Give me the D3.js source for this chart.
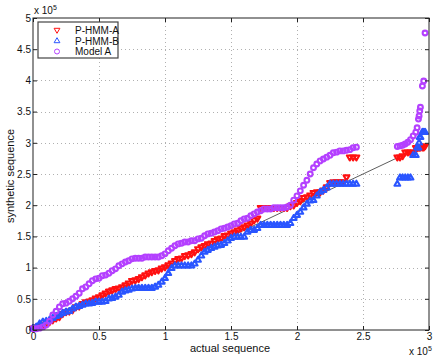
<!DOCTYPE html>
<html><head><meta charset="utf-8">
<script src="https://cdn.jsdelivr.net/npm/d3@7"></script>
<style>
body{margin:0;background:#fff;}
svg{display:block;font-family:"Liberation Sans",Arial,Helvetica,sans-serif;}
</style></head>
<body><svg id="c" width="436" height="357"></svg>
<script>
// actual-sequence quantiles (x 10^5)
const actualQ = [0,0.025,0.05,0.075,0.1,0.125,0.15,0.175,0.2,0.225,0.25,0.275,0.3,0.325,0.35,0.375,0.4,0.425,0.45,0.475,0.5,0.525,0.55,0.575,0.6,0.625,0.65,0.675,0.7,0.725,0.75,0.775,0.8,0.825,0.85,0.875,0.9,0.925,0.95,0.975,1.0,1.025,1.05,1.075,1.1,1.125,1.15,1.175,1.2,1.225,1.25,1.275,1.3,1.325,1.35,1.375,1.4,1.425,1.45,1.475,1.5,1.525,1.55,1.575,1.6,1.625,1.65,1.675,1.7,1.725,1.75,1.775,1.8,1.825,1.85,1.875,1.9,1.925,1.95,1.975,2.0,2.025,2.05,2.075,2.1,2.125,2.15,2.175,2.2,2.225,2.25,2.275,2.3,2.325,2.35,2.375,2.4,2.425,2.45,
 2.76,2.78,2.80,2.82,2.84,2.86,2.88,2.90,2.91,2.92,2.925,2.93,2.935,2.95,2.96,2.97];

// synthetic-sequence quantiles (x 10^5)
const pHmmA = [0.03,0.05,0.06,0.08,0.10,0.13,0.16,0.19,0.21,0.26,
 0.29,0.30,0.32,0.37,0.38,0.42,0.45,0.46,0.48,0.51,
 0.53,0.56,0.59,0.62,0.64,0.66,0.67,0.69,0.72,0.75,
 0.79,0.80,0.82,0.85,0.88,0.91,0.93,0.95,0.96,0.99,
 1.01,1.04,1.07,1.11,1.14,1.15,1.19,1.20,1.22,1.25,
 1.30,1.33,1.35,1.38,1.39,1.43,1.46,1.47,1.51,1.52,
 1.55,1.57,1.60,1.63,1.65,1.68,1.71,1.76,1.79,1.96,
 1.96,1.96,1.96,1.96,1.96,1.96,1.96,1.96,1.99,2.00,
 2.04,2.07,2.12,2.13,2.16,2.20,2.21,2.21,2.24,2.29,
 2.36,2.37,2.37,2.37,2.37,2.45,2.77,2.77,2.77,
 2.77,2.77,2.79,2.85,2.85,2.85,2.85,2.92,2.92,2.93,2.93,2.93,2.93,2.93,2.93,2.95];

const pHmmB = [0.03,0.05,0.10,0.13,0.14,0.16,0.19,0.22,0.24,0.27,
 0.29,0.30,0.34,0.37,0.38,0.40,0.42,0.42,0.43,0.45,
 0.45,0.45,0.46,0.50,0.51,0.53,0.56,0.61,0.63,0.64,
 0.66,0.67,0.67,0.67,0.67,0.67,0.67,0.69,0.72,0.77,
 0.83,0.91,0.99,1.03,1.03,1.03,1.03,1.03,1.03,1.06,
 1.12,1.19,1.25,1.28,1.31,1.33,1.35,1.36,1.39,1.43,
 1.47,1.49,1.49,1.49,1.49,1.57,1.60,1.60,1.63,1.68,
 1.68,1.68,1.68,1.68,1.68,1.68,1.68,1.68,1.71,1.79,
 1.84,1.89,1.96,2.02,2.07,2.08,2.15,2.21,2.24,2.28,
 2.34,2.34,2.34,2.34,2.34,2.34,2.34,2.34,2.34,
 2.34,2.44,2.44,2.44,2.44,2.44,2.80,2.80,2.92,2.92,3.00,3.09,3.09,3.17,3.17,3.17];

const modelA = [0.02,0.02,0.03,0.05,0.08,0.14,0.24,0.30,0.37,0.42,
 0.43,0.46,0.50,0.54,0.59,0.66,0.69,0.74,0.79,0.82,
 0.83,0.87,0.88,0.91,0.95,0.98,1.03,1.06,1.09,1.11,
 1.14,1.15,1.15,1.15,1.17,1.17,1.17,1.17,1.17,1.19,
 1.22,1.27,1.31,1.35,1.38,1.39,1.41,1.41,1.43,1.43,
 1.46,1.47,1.51,1.54,1.55,1.57,1.59,1.62,1.63,1.65,
 1.67,1.70,1.71,1.75,1.78,1.79,1.83,1.86,1.89,1.91,
 1.94,1.94,1.94,1.96,1.96,1.96,1.96,1.97,2.00,2.08,
 2.15,2.23,2.32,2.40,2.50,2.60,2.66,2.71,2.74,2.77,
 2.80,2.84,2.85,2.87,2.87,2.88,2.89,2.92,2.93,
 2.94,2.95,2.96,2.98,3.01,3.05,3.11,3.17,3.24,3.38,3.43,3.51,3.57,3.91,3.99,4.76];

const seriesNames = ["P-HMM-A","P-HMM-B","Model A"];
const xTicks = [0,0.5,1,1.5,2,2.5,3];
const xTickLabels = ["0","0.5","1","1.5","2","2.5","3"];
const yTicks = [0,0.5,1,1.5,2,2.5,3,3.5,4,4.5,5];
const yTickLabels = ["0","0.5","1","1.5","2","2.5","3","3.5","4","4.5","5"];

const svg = d3.select("#c");
const L=33, R=429, T=18, B=330;
const x = d3.scaleLinear().domain([0,3]).range([L,R]);
const y = d3.scaleLinear().domain([0,5]).range([B,T]);

// grid
const grid = svg.append("g").attr("stroke","#b0b0b0").attr("stroke-width",1).attr("stroke-dasharray","1,3");
grid.selectAll("line.vx").data(xTicks.slice(1,-1)).join("line")
  .attr("x1",d=>Math.round(x(d))+0.5).attr("x2",d=>Math.round(x(d))+0.5).attr("y1",T).attr("y2",B);
grid.selectAll("line.hy").data(yTicks.slice(1,-1)).join("line")
  .attr("y1",d=>Math.round(y(d))+0.5).attr("y2",d=>Math.round(y(d))+0.5).attr("x1",L).attr("x2",R);

// reference line y = x
svg.append("line").attr("x1",x(0)).attr("y1",y(0)).attr("x2",x(d3.max(actualQ))).attr("y2",y(d3.max(actualQ)))
  .attr("stroke","#333").attr("stroke-width",0.8);

const downTri = "M-2.9,-1.7L2.9,-1.7L0,3.3Z";
const upTri = "M-2.9,1.7L2.9,1.7L0,-3.3Z";
const colors = ["#ff1010","#2a55ff","#b440ff"];

function drawSeries(vals, color, kind){
  const g = svg.append("g");
  const pts = actualQ.map((q,i)=>[q, vals[i]]);
  if(kind==="circle"){
    g.selectAll("circle").data(pts).join("circle")
      .attr("cx",d=>x(d[0])).attr("cy",d=>y(d[1])).attr("r",2.4)
      .attr("fill","none").attr("stroke",color).attr("stroke-width",2.1);
  } else {
    g.selectAll("path").data(pts).join("path")
      .attr("d",kind==="down"?downTri:upTri)
      .attr("transform",d=>`translate(${x(d[0])},${y(d[1])})`)
      .attr("fill","none").attr("stroke",color).attr("stroke-width",2.1).attr("stroke-linejoin","round");
  }
}
drawSeries(pHmmA, colors[0], "down");
drawSeries(pHmmB, colors[1], "up");
drawSeries(modelA, colors[2], "circle");

// axes
const fs = "10px";
const ax = svg.append("g").attr("transform",`translate(0,${B})`)
  .call(d3.axisBottom(x).tickValues(xTicks).tickFormat((d,i)=>xTickLabels[i]).tickSize(-4).tickPadding(3));
const ay = svg.append("g").attr("transform",`translate(${L},0)`)
  .call(d3.axisLeft(y).tickValues(yTicks).tickFormat((d,i)=>yTickLabels[i]).tickSize(-4).tickPadding(2));
const at = svg.append("g").attr("transform",`translate(0,${T})`)
  .call(d3.axisTop(x).tickValues(xTicks).tickFormat("").tickSize(-4));
const ar = svg.append("g").attr("transform",`translate(${R},0)`)
  .call(d3.axisRight(y).tickValues(yTicks).tickFormat("").tickSize(-4));
[ax,ay,at,ar].forEach(g=>{
  g.select(".domain").remove();
  g.selectAll("line").attr("stroke","#222");
  g.selectAll("text").attr("font-size",fs).attr("fill","#111").style("font-family","'Liberation Sans',Arial,sans-serif");
});
svg.append("rect").attr("x",L).attr("y",T).attr("width",R-L).attr("height",B-T)
  .attr("fill","none").attr("stroke","#222").attr("stroke-width",1);

// exponent labels
const e1 = svg.append("text").attr("x",34).attr("y",14).attr("font-size","10px").attr("fill","#111");
e1.append("tspan").text("x 10");
e1.append("tspan").attr("font-size","7px").attr("dy",-4).text("5");
const e2 = svg.append("text").attr("x",409).attr("y",355).attr("font-size","10px").attr("fill","#111");
e2.append("tspan").text("x 10");
e2.append("tspan").attr("font-size","7px").attr("dy",-4).text("5");

// axis titles
svg.append("text").attr("x",230).attr("y",352).attr("text-anchor","middle").attr("font-size","11px").attr("fill","#111").text("actual sequence");
svg.append("text").attr("transform","translate(14,176) rotate(-90)").attr("text-anchor","middle").attr("font-size","11px").attr("fill","#111").text("synthetic sequence");

// legend
const lg = svg.append("g");
lg.append("rect").attr("x",38).attr("y",22).attr("width",80).attr("height",36)
  .attr("fill","#fff").attr("stroke","#444").attr("stroke-width",1.2);
const rows = [30,41,51.5];
lg.append("path").attr("d",downTri).attr("transform",`translate(57,${rows[0]})`).attr("fill","none").attr("stroke",colors[0]);
lg.append("path").attr("d",upTri).attr("transform",`translate(57,${rows[1]})`).attr("fill","none").attr("stroke",colors[1]);
lg.append("circle").attr("cx",57).attr("cy",rows[2]).attr("r",2.5).attr("fill","none").attr("stroke",colors[2]);
seriesNames.forEach((n,i)=>{
  lg.append("text").attr("x",75).attr("y",rows[i]).attr("dy","0.35em").attr("font-size","10px").attr("fill","#111").text(n);
});
</script></body></html>
